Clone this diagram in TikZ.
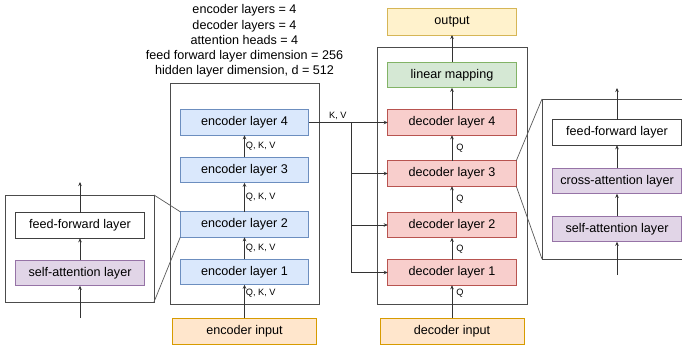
\documentclass[tikz,border=0pt]{standalone}
\usepackage{fontspec}
\setmainfont{Liberation Sans}
\usetikzlibrary{arrows.meta}
\definecolor{encfill}{HTML}{DAE8FC}
\definecolor{encline}{HTML}{6C8EBF}
\definecolor{decfill}{HTML}{F8CECC}
\definecolor{decline}{HTML}{B85450}
\definecolor{linfill}{HTML}{D5E8D4}
\definecolor{linline}{HTML}{82B366}
\definecolor{outfill}{HTML}{FFF2CC}
\definecolor{outline}{HTML}{D6B656}
\definecolor{infill}{HTML}{FFE6CC}
\definecolor{inline}{HTML}{D79B00}
\definecolor{attfill}{HTML}{E1D5E7}
\definecolor{attline}{HTML}{9673A6}
\begin{document}
\begin{tikzpicture}[x=1pt,y=-1pt,
    layer/.style={draw, line width=0.8pt, minimum width=128.5, minimum height=25.5,
      inner sep=0pt, outer sep=0pt, font=\fontsize{12.6}{15}\selectfont},
    enclayer/.style={layer, draw=encline, fill=encfill},
    declayer/.style={layer, draw=decline, fill=decfill},
    attlayer/.style={layer, draw=attline, fill=attfill},
    plainlayer/.style={layer, draw=black!75, fill=white},
    inbox/.style={layer, draw=inline, fill=infill, minimum width=144, minimum height=26},
    frame/.style={draw=black!70, line width=0.8pt, inner sep=0pt, outer sep=0pt},
    wire/.style={draw=black!80, line width=0.8pt},
    link/.style={wire, -{Stealth[length=4pt,width=3.5pt]}},
    zoomline/.style={draw=black!65, line width=0.7pt},
    tag/.style={font=\fontsize{9.2}{11}\selectfont, inner sep=1pt, anchor=west}]
    \clip (0,0) rectangle (682,350);

    \node[frame, minimum width=149, minimum height=221] (encbox) at (244.5,193.5) {};
    \node[frame, minimum width=150, minimum height=257] (decbox) at (452,175.5) {};
    \node[frame, minimum width=149, minimum height=107] (encpanel) at (79.5,248.5) {};
    \node[frame, minimum width=150, minimum height=160] (decpanel) at (617,179) {};

    \node[align=center, font=\fontsize{12.6}{15.2}\selectfont] (params) at (244.5,41)
      {encoder layers = 4\\decoder layers = 4\\attention heads = 4\\
       feed forward layer dimension = 256\\hidden layer dimension, d = 512};

    \foreach \i/\y in {1/272,2/224.5,3/170,4/122.5}
      \node[enclayer] (enc\i) at (244.5,\y) {encoder layer \i};
    \foreach \i/\y in {1/272.5,2/225,3/173.5,4/122.5}
      \node[declayer] (dec\i) at (452,\y) {decoder layer \i};
    \node[inbox] (encin) at (244.5,331) {encoder input};
    \node[inbox] (decin) at (452,331) {decoder input};
    \node[layer, draw=linline, fill=linfill] (lin) at (452,75) {linear mapping};
    \node[layer, draw=outline, fill=outfill, minimum height=27] (out) at (452,21.5) {output};

    \draw[link] (encin) -- node[tag, pos=0.75] {Q, K, V} (enc1);
    \foreach \i/\j in {1/2,2/3,3/4}
      \draw[link] (enc\i) -- node[tag] {Q, K, V} (enc\j);
    \draw[link] (decin) -- node[tag, pos=0.75, xshift=3pt] {Q} (dec1);
    \foreach \i/\j in {1/2,2/3,3/4}
      \draw[link] (dec\i) -- node[tag, xshift=3pt] {Q} (dec\j);
    \draw[link] (dec4) -- (lin);
    \draw[link] (lin) -- (out);

    \coordinate (kvtop) at (351,122.5);
    \draw[wire] (enc4.east) -- node[tag, anchor=south, pos=0.69, yshift=1pt] {K, V} (kvtop)
      -- (kvtop |- dec1);
    \foreach \i in {1,...,4}
      \draw[link] (kvtop |- dec\i) -- (dec\i.west);

    \node[plainlayer] (encff) at (80,225.5) {feed-forward layer};
    \node[attlayer] (encsa) at (80,273) {self-attention layer};
    \coordinate (encpin) at (80,318);
    \coordinate (encpout) at (80,182);
    \draw[link] (encpin) -- (encsa);
    \draw[link] (encsa) -- (encff);
    \draw[link] (encff) -- (encpout);
    \draw[zoomline] (encpanel.north east) -- (enc2.north west);
    \draw[zoomline] (encpanel.south east) -- (enc2.south west);

    \node[plainlayer] (decff) at (617,132.5) {feed-forward layer};
    \node[attlayer] (decca) at (617,181) {cross-attention layer};
    \node[attlayer] (decsa) at (617,229) {self-attention layer};
    \coordinate (decpin) at (617,275);
    \coordinate (decpout) at (617,88);
    \draw[link] (decpin) -- (decsa);
    \draw[link] (decsa) -- (decca);
    \draw[link] (decca) -- (decff);
    \draw[link] (decff) -- (decpout);
    \draw[zoomline] (dec3.north east) -- (decpanel.north west);
    \draw[zoomline] (dec3.south east) -- (decpanel.south west);
\end{tikzpicture}
\end{document}
